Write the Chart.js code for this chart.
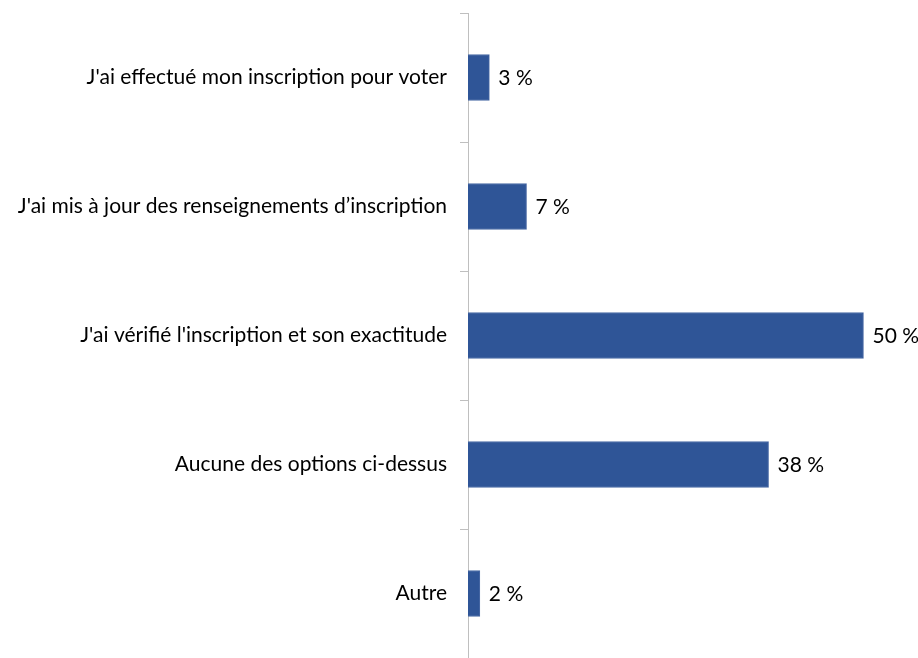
<!DOCTYPE html>
<html>
<head>
<meta charset="utf-8">
<script src="https://cdn.jsdelivr.net/npm/chart.js"></script>
<style>
  html, body { margin: 0; padding: 0; background: #fff; }
  #wrap { width: 918px; height: 658px; }
</style>
</head>
<body>
<div id="wrap"><canvas id="chart"></canvas></div>
<script>
"use strict";

// Chart data
const categories = [
    "J'ai effectué mon inscription pour voter",
    "J'ai mis à jour des renseignements d\u2019inscription",
    "J'ai vérifié l'inscription et son exactitude",
    "Aucune des options ci-dessus",
    "Autre"
];
const values = [2.7, 7.4, 50, 38, 1.5];
const valueLabels = ["3 %", "7 %", "50 %", "38 %", "2 %"];

const labelFont = "21px Lato, 'Open Sans', sans-serif";

// Writes the percentage at the end of each bar
const barLabels = {
    id: "barLabels",
    afterDatasetsDraw(chart) {
        const { ctx } = chart;
        const meta = chart.getDatasetMeta(0);
        ctx.save();
        ctx.font = labelFont;
        ctx.fillStyle = "#000";
        ctx.textAlign = "left";
        ctx.textBaseline = "middle";
        meta.data.forEach((bar, i) => {
            ctx.fillText(valueLabels[i], bar.x + 9, bar.y + 1);
        });
        ctx.restore();
    }
};

new Chart(document.getElementById("chart"), {
    type: "bar",
    data: {
        labels: categories,
        datasets: [{
            data: values,
            backgroundColor: "#2F5597",
            borderColor: "#4A6AA5",
            borderWidth: 1,
            barThickness: 46
        }]
    },
    options: {
        indexAxis: "y",
        responsive: true,
        maintainAspectRatio: false,
        animation: false,
        layout: { padding: { top: 13, right: 15, bottom: 0, left: 0 } },
        plugins: {
            legend: { display: false },
            tooltip: { enabled: false }
        },
        scales: {
            x: {
                display: false,
                min: 0,
                max: 55
            },
            y: {
                afterFit(scale) {
                    scale.width = 468;
                    scale.paddingTop = 0;
                    scale.paddingBottom = 0;
                },
                border: { display: true, color: "#BFBFBF", width: 1 },
                grid: {
                    offset: true,
                    drawOnChartArea: false,
                    tickLength: 8,
                    color: "#BFBFBF"
                },
                ticks: {
                    padding: 13,
                    color: "#000",
                    font: { family: "Lato, 'Open Sans', sans-serif", size: 21 }
                }
            }
        }
    },
    plugins: [barLabels]
});
</script>
</body>
</html>
